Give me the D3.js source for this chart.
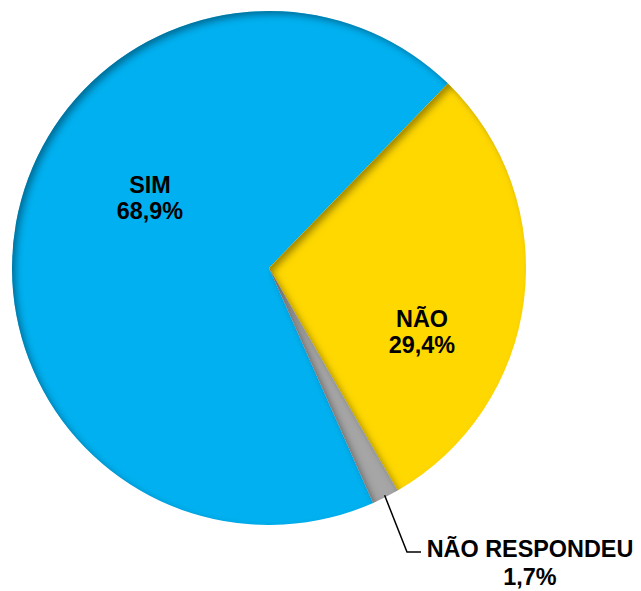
<!DOCTYPE html>
<html><head><meta charset="utf-8">
<script src="https://cdn.jsdelivr.net/npm/d3@7/dist/d3.min.js"></script>
<style>body{margin:0;background:#fff}svg{display:block}</style>
</head><body>
<svg id="chart" width="641" height="591"></svg>
<script>
const categories = ["SIM", "NÃO", "NÃO RESPONDEU"];
const values = [68.9, 29.4, 1.7];
const valueLabels = ["68,9%", "29,4%", "1,7%"];
const colors = ["#00B0F0", "#FFD800", "#A6A6A6"];

const svg = d3.select("#chart");
const cx = 269, cy = 268, R = 257;
const defs = svg.append("defs");
const f = defs.append("filter").attr("id","inner").attr("x","-10%").attr("y","-10%").attr("width","120%").attr("height","120%");
f.append("feOffset").attr("in","SourceAlpha").attr("dx",3.5).attr("dy",3.5).attr("result","off");
f.append("feGaussianBlur").attr("in","off").attr("stdDeviation",3.5).attr("result","ob");
f.append("feComposite").attr("operator","out").attr("in","SourceAlpha").attr("in2","ob").attr("result","inv");
f.append("feFlood").attr("flood-color","#000").attr("flood-opacity",0.65).attr("result","col");
f.append("feComposite").attr("operator","in").attr("in","col").attr("in2","inv").attr("result","sh");
const m = f.append("feMerge");
m.append("feMergeNode").attr("in","SourceGraphic");
m.append("feMergeNode").attr("in","sh");

const start = 156.1 * Math.PI / 180;
const pie = d3.pie().sort(null).value(d => d).startAngle(start).endAngle(start + 2*Math.PI);
const arcs = pie(values);
const arc = d3.arc().innerRadius(0).outerRadius(R);
const g = svg.append("g").attr("transform", `translate(${cx},${cy})`);
g.selectAll("path").data(arcs).join("path")
  .attr("d", arc).attr("fill", (d,i) => colors[i]).attr("filter","url(#inner)");

// label layout (first-line baseline, relative to centre)
const labelPos = [[-119, -75], [153, 59], [261, 289]];
const lg = svg.append("g").attr("transform", `translate(${cx},${cy})`);
// leader line for small slice
const small = arcs[2];
const mid = (small.startAngle + small.endAngle) / 2;
const p0 = [Math.sin(mid) * (R - 2), -Math.cos(mid) * (R - 2)];
lg.append("path").attr("d", `M${p0[0]},${p0[1]}L${138},${284}L${152},${284}`)
  .attr("fill","none").attr("stroke","#000").attr("stroke-width",1.5);
categories.forEach((c, i) => {
  const t = lg.append("text").attr("text-anchor","middle")
    .attr("font-family","Liberation Sans, Arial, sans-serif")
    .attr("font-weight","bold").attr("font-size", 23.4).attr("fill","#000");
  t.append("tspan").attr("x", labelPos[i][0]).attr("y", labelPos[i][1]).text(c);
  t.append("tspan").attr("x", labelPos[i][0]).attr("y", labelPos[i][1] + (i === 2 ? 28 : 26)).text(valueLabels[i]);
});
</script>
</body></html>
